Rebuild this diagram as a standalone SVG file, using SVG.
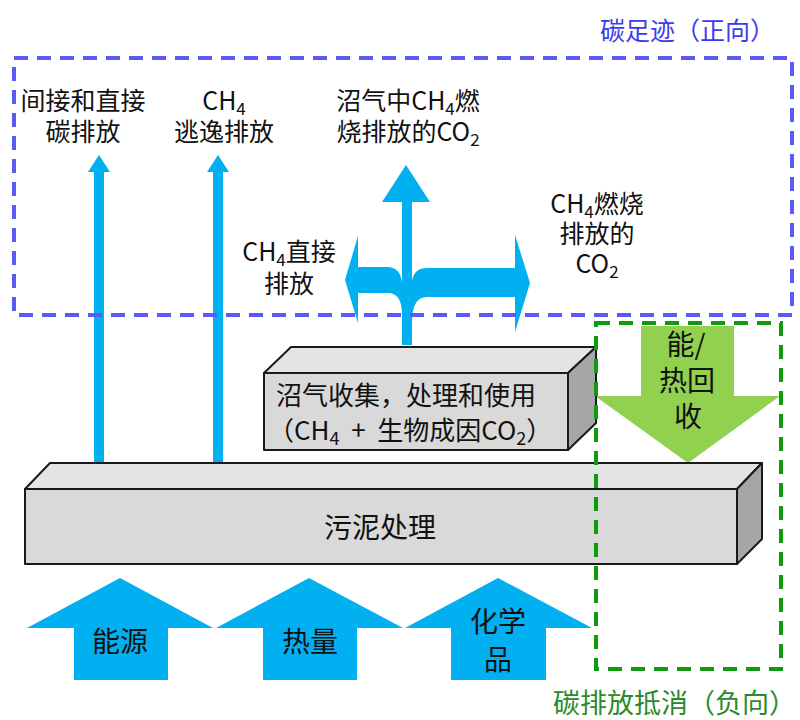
<svg xmlns="http://www.w3.org/2000/svg" width="800" height="720" viewBox="0 0 800 720">
<style>
text{font-family:"Noto Sans CJK SC","Noto Sans",sans-serif;fill:#111;}
.lbl{font-size:25px;text-anchor:middle;}
.box{font-size:26px;}
.big{font-size:28px;text-anchor:middle;}
.sub{font-size:17px;}
.blue{fill:#00b0f0;}
.face{fill:#d9d9d9;stroke:#1a1a1a;stroke-width:2;stroke-linejoin:round;}
.top{fill:#e4e4e4;stroke:#1a1a1a;stroke-width:2;stroke-linejoin:round;}
.side{fill:#a6a6a6;stroke:#1a1a1a;stroke-width:2;stroke-linejoin:round;}
.bdash{fill:none;stroke:#5a5af5;stroke-width:4;stroke-dasharray:14 9;}
.gdash{fill:none;stroke:#0f9a0f;stroke-width:4;stroke-dasharray:14 9;}
</style>

<g id="connectors">
  <path class="blue" d="M94,463 L94,172 L88,172 L99,155 L110,172 L104,172 L104,463 Z"/>
  <path class="blue" d="M213,463 L213,172 L207,172 L218,155 L229,172 L223,172 L223,463 Z"/>
  <path class="blue" d="M406,165 L430,202 L412,202 L412,281 Q414,268 427,268 L515,268 L515,235 L530,283 L515,332 L515,297 L427,297 Q412,297 412,322 L412,345 L402,345 L402,315 Q402,293 388,293 L358,293 L358,323 L345,280 L358,236 L358,267 L387,267 Q400,267 402,282 L402,202 L382,202 Z"/>
  <path fill="#92d050" d="M641,326 L734,326 L734,396 L780,396 L688,463 L595,396 L641,396 Z"/>
  <path class="blue" d="M74,680 L74,628 L27,628 L120,578 L213,628 L168,628 L168,680 Z"/>
  <path class="blue" d="M263,680 L263,628 L216,628 L309,578 L403,628 L357,628 L357,680 Z"/>
  <path class="blue" d="M451,680 L451,628 L405,628 L498,578 L592,628 L546,628 L546,680 Z"/>
</g>

<g id="label-indirect">
  <text class="lbl"><tspan x="83" y="110">间接和直接</tspan><tspan x="83" y="141">碳排放</tspan></text>
</g>
<g id="label-ch4-escape">
  <text class="lbl"><tspan x="224" y="110">CH</tspan><tspan class="sub" dy="5">4</tspan><tspan x="224" y="141">逃逸排放</tspan></text>
</g>
<g id="label-biogas-co2">
  <text class="lbl"><tspan x="408" y="110">沼气中CH</tspan><tspan class="sub" dy="5">4</tspan><tspan dy="-5">燃</tspan><tspan x="408" y="141">烧排放的CO</tspan><tspan class="sub" dy="5">2</tspan></text>
</g>
<g id="label-ch4-direct">
  <text class="lbl"><tspan x="289" y="261">CH</tspan><tspan class="sub" dy="5">4</tspan><tspan dy="-5">直接</tspan><tspan x="289" y="293">排放</tspan></text>
</g>
<g id="label-ch4-burn">
  <text class="lbl"><tspan x="597" y="213">CH</tspan><tspan class="sub" dy="5">4</tspan><tspan dy="-5">燃烧</tspan><tspan x="597" y="243">排放的</tspan><tspan x="597" y="273">CO</tspan><tspan class="sub" dy="5">2</tspan></text>
</g>

<g id="node-biogas">
  <path class="top" d="M264,373 L291,347 L596,347 L568,373 Z"/>
  <path class="side" d="M568,373 L596,347 L596,423 L568,450 Z"/>
  <rect class="face" x="264" y="373" width="304" height="77"/>
  <text class="box" xml:space="preserve"><tspan x="276" y="405">沼气收集，处理和使用</tspan><tspan x="268" y="440">（CH</tspan><tspan font-size="18" dy="5">4</tspan><tspan dy="-5">  +  生物成因CO</tspan><tspan font-size="18" dy="5">2</tspan><tspan dy="-5">）</tspan></text>
</g>

<g id="node-sludge">
  <path class="top" d="M25,489 L50,463 L762,463 L737,489 Z"/>
  <path class="side" d="M737,489 L762,463 L762,539 L737,564 Z"/>
  <rect class="face" x="25" y="489" width="712" height="75"/>
  <text class="big" x="380" y="538" font-size="30">污泥处理</text>
</g>

<g id="node-recovery">
  <text class="big"><tspan x="686" y="355">能/</tspan><tspan x="687" y="391">热回</tspan><tspan x="688" y="427">收</tspan></text>
</g>

<g id="node-inputs">
  <text class="big" x="120" y="652">能源</text>
  <text class="big" x="310" y="652">热量</text>
  <text class="big"><tspan x="498" y="632">化学</tspan><tspan x="498" y="670">品</tspan></text>
</g>

<g id="region-positive">
  <rect class="bdash" x="14" y="58" width="778" height="257"/>
  <text x="775" y="40" font-size="25" text-anchor="end" style="fill:#3a3af0">碳足迹（正向）</text>
</g>
<g id="region-negative">
  <rect class="gdash" x="596" y="323" width="185" height="346"/>
  <text x="796" y="713" font-size="27" text-anchor="end" style="fill:#2a8a2a">碳排放抵消（负向）</text>
</g>
</svg>
